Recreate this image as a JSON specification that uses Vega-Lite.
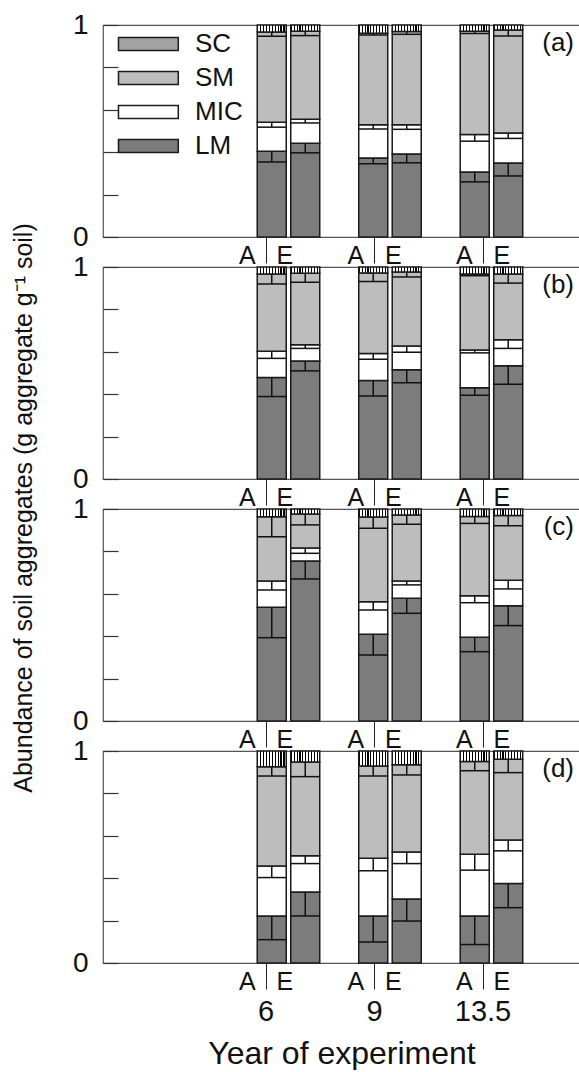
{
  "$schema": "https://vega.github.io/schema/vega-lite/v6.json",
  "padding": {"left": 11, "top": 10, "right": 0, "bottom": 0},
  "bounds": "flush",
  "spacing": 30,
  "config": {
    "font": "Liberation Sans",
    "view": {"stroke": "#555555", "strokeWidth": 1.2},
    "axis": {"labelColor": "#111111", "titleColor": "#111111", "grid": false},
    "axisY": {"values": [0, 0.2, 0.4, 0.6, 0.8, 1], "tickSize": -15, "tickColor": "#333333", "tickWidth": 1.2, "domain": false, "title": null, "labelFontSize": 28, "labelPadding": 30, "labelFlush": false, "labelOverlap": false, "labelExpr": "datum.value == 0 ? '0' : datum.value == 1 ? '1' : ''"},
    "bar": {"stroke": "#1a1a1a", "strokeWidth": 1.5},
    "rule": {"color": "#111111", "strokeWidth": 1.5},
    "tick": {"color": "#111111", "thickness": 1.5, "opacity": 1}
  },
  "title": {
    "text": "Abundance of soil aggregates (g aggregate g⁻¹ soil)",
    "orient": "left", "anchor": "middle", "fontSize": 25, "fontWeight": "normal",
    "color": "#111111", "offset": 35, "dx": 32
  },
  "resolve": {"scale": {"fill": "independent"}, "legend": {"fill": "independent"}},
  "datasets": {
    "years": [{"year": "6"}, {"year": "9"}, {"year": "13.5"}],
    "agg": [
      {"panel": "a", "year": "6", "trt": "A", "frac": "LM", "lo": 0, "hi": 0.404, "cap": 0.354},
      {"panel": "a", "year": "6", "trt": "A", "frac": "MIC", "lo": 0.404, "hi": 0.541, "cap": 0.518},
      {"panel": "a", "year": "6", "trt": "A", "frac": "SM", "lo": 0.541, "hi": 0.967, "cap": 0.947},
      {"panel": "a", "year": "6", "trt": "A", "frac": "SC", "lo": 0.967, "hi": 1},
      {"panel": "a", "year": "6", "trt": "E", "frac": "LM", "lo": 0, "hi": 0.442, "cap": 0.397},
      {"panel": "a", "year": "6", "trt": "E", "frac": "MIC", "lo": 0.442, "hi": 0.556, "cap": 0.538},
      {"panel": "a", "year": "6", "trt": "E", "frac": "SM", "lo": 0.556, "hi": 0.970, "cap": 0.950},
      {"panel": "a", "year": "6", "trt": "E", "frac": "SC", "lo": 0.970, "hi": 1},
      {"panel": "a", "year": "9", "trt": "A", "frac": "LM", "lo": 0, "hi": 0.373, "cap": 0.346},
      {"panel": "a", "year": "9", "trt": "A", "frac": "MIC", "lo": 0.373, "hi": 0.530, "cap": 0.509},
      {"panel": "a", "year": "9", "trt": "A", "frac": "SM", "lo": 0.530, "hi": 0.961, "cap": 0.953},
      {"panel": "a", "year": "9", "trt": "A", "frac": "SC", "lo": 0.961, "hi": 1},
      {"panel": "a", "year": "9", "trt": "E", "frac": "LM", "lo": 0, "hi": 0.392, "cap": 0.350},
      {"panel": "a", "year": "9", "trt": "E", "frac": "MIC", "lo": 0.392, "hi": 0.530, "cap": 0.508},
      {"panel": "a", "year": "9", "trt": "E", "frac": "SM", "lo": 0.530, "hi": 0.969, "cap": 0.956},
      {"panel": "a", "year": "9", "trt": "E", "frac": "SC", "lo": 0.969, "hi": 1},
      {"panel": "a", "year": "13.5", "trt": "A", "frac": "LM", "lo": 0, "hi": 0.307, "cap": 0.260},
      {"panel": "a", "year": "13.5", "trt": "A", "frac": "MIC", "lo": 0.307, "hi": 0.483, "cap": 0.452},
      {"panel": "a", "year": "13.5", "trt": "A", "frac": "SM", "lo": 0.483, "hi": 0.970, "cap": 0.960},
      {"panel": "a", "year": "13.5", "trt": "A", "frac": "SC", "lo": 0.970, "hi": 1},
      {"panel": "a", "year": "13.5", "trt": "E", "frac": "LM", "lo": 0, "hi": 0.349, "cap": 0.288},
      {"panel": "a", "year": "13.5", "trt": "E", "frac": "MIC", "lo": 0.349, "hi": 0.490, "cap": 0.465},
      {"panel": "a", "year": "13.5", "trt": "E", "frac": "SM", "lo": 0.490, "hi": 0.977, "cap": 0.948},
      {"panel": "a", "year": "13.5", "trt": "E", "frac": "SC", "lo": 0.977, "hi": 1},

      {"panel": "b", "year": "6", "trt": "A", "frac": "LM", "lo": 0, "hi": 0.479, "cap": 0.389},
      {"panel": "b", "year": "6", "trt": "A", "frac": "MIC", "lo": 0.479, "hi": 0.603, "cap": 0.569},
      {"panel": "b", "year": "6", "trt": "A", "frac": "SM", "lo": 0.603, "hi": 0.967, "cap": 0.920},
      {"panel": "b", "year": "6", "trt": "A", "frac": "SC", "lo": 0.967, "hi": 1},
      {"panel": "b", "year": "6", "trt": "E", "frac": "LM", "lo": 0, "hi": 0.557, "cap": 0.510},
      {"panel": "b", "year": "6", "trt": "E", "frac": "MIC", "lo": 0.557, "hi": 0.633, "cap": 0.616},
      {"panel": "b", "year": "6", "trt": "E", "frac": "SM", "lo": 0.633, "hi": 0.970, "cap": 0.928},
      {"panel": "b", "year": "6", "trt": "E", "frac": "SC", "lo": 0.970, "hi": 1},
      {"panel": "b", "year": "9", "trt": "A", "frac": "LM", "lo": 0, "hi": 0.465, "cap": 0.392},
      {"panel": "b", "year": "9", "trt": "A", "frac": "MIC", "lo": 0.465, "hi": 0.592, "cap": 0.565},
      {"panel": "b", "year": "9", "trt": "A", "frac": "SM", "lo": 0.592, "hi": 0.972, "cap": 0.932},
      {"panel": "b", "year": "9", "trt": "A", "frac": "SC", "lo": 0.972, "hi": 1},
      {"panel": "b", "year": "9", "trt": "E", "frac": "LM", "lo": 0, "hi": 0.515, "cap": 0.454},
      {"panel": "b", "year": "9", "trt": "E", "frac": "MIC", "lo": 0.515, "hi": 0.627, "cap": 0.598},
      {"panel": "b", "year": "9", "trt": "E", "frac": "SM", "lo": 0.627, "hi": 0.976, "cap": 0.953},
      {"panel": "b", "year": "9", "trt": "E", "frac": "SC", "lo": 0.976, "hi": 1},
      {"panel": "b", "year": "13.5", "trt": "A", "frac": "LM", "lo": 0, "hi": 0.430, "cap": 0.395},
      {"panel": "b", "year": "13.5", "trt": "A", "frac": "MIC", "lo": 0.430, "hi": 0.609, "cap": 0.595},
      {"panel": "b", "year": "13.5", "trt": "A", "frac": "SM", "lo": 0.609, "hi": 0.967, "cap": 0.959},
      {"panel": "b", "year": "13.5", "trt": "A", "frac": "SC", "lo": 0.967, "hi": 1},
      {"panel": "b", "year": "13.5", "trt": "E", "frac": "LM", "lo": 0, "hi": 0.534, "cap": 0.447},
      {"panel": "b", "year": "13.5", "trt": "E", "frac": "MIC", "lo": 0.534, "hi": 0.657, "cap": 0.616},
      {"panel": "b", "year": "13.5", "trt": "E", "frac": "SM", "lo": 0.657, "hi": 0.967, "cap": 0.924},
      {"panel": "b", "year": "13.5", "trt": "E", "frac": "SC", "lo": 0.967, "hi": 1},

      {"panel": "c", "year": "6", "trt": "A", "frac": "LM", "lo": 0, "hi": 0.536, "cap": 0.393},
      {"panel": "c", "year": "6", "trt": "A", "frac": "MIC", "lo": 0.536, "hi": 0.660, "cap": 0.618},
      {"panel": "c", "year": "6", "trt": "A", "frac": "SM", "lo": 0.660, "hi": 0.964, "cap": 0.869},
      {"panel": "c", "year": "6", "trt": "A", "frac": "SC", "lo": 0.964, "hi": 1},
      {"panel": "c", "year": "6", "trt": "E", "frac": "LM", "lo": 0, "hi": 0.755, "cap": 0.670},
      {"panel": "c", "year": "6", "trt": "E", "frac": "MIC", "lo": 0.755, "hi": 0.816, "cap": 0.791},
      {"panel": "c", "year": "6", "trt": "E", "frac": "SM", "lo": 0.816, "hi": 0.976, "cap": 0.925},
      {"panel": "c", "year": "6", "trt": "E", "frac": "SC", "lo": 0.976, "hi": 1},
      {"panel": "c", "year": "9", "trt": "A", "frac": "LM", "lo": 0, "hi": 0.409, "cap": 0.311},
      {"panel": "c", "year": "9", "trt": "A", "frac": "MIC", "lo": 0.409, "hi": 0.563, "cap": 0.524},
      {"panel": "c", "year": "9", "trt": "A", "frac": "SM", "lo": 0.563, "hi": 0.962, "cap": 0.909},
      {"panel": "c", "year": "9", "trt": "A", "frac": "SC", "lo": 0.962, "hi": 1},
      {"panel": "c", "year": "9", "trt": "E", "frac": "LM", "lo": 0, "hi": 0.579, "cap": 0.508},
      {"panel": "c", "year": "9", "trt": "E", "frac": "MIC", "lo": 0.579, "hi": 0.660, "cap": 0.642},
      {"panel": "c", "year": "9", "trt": "E", "frac": "SM", "lo": 0.660, "hi": 0.972, "cap": 0.928},
      {"panel": "c", "year": "9", "trt": "E", "frac": "SC", "lo": 0.972, "hi": 1},
      {"panel": "c", "year": "13.5", "trt": "A", "frac": "LM", "lo": 0, "hi": 0.395, "cap": 0.327},
      {"panel": "c", "year": "13.5", "trt": "A", "frac": "MIC", "lo": 0.395, "hi": 0.591, "cap": 0.558},
      {"panel": "c", "year": "13.5", "trt": "A", "frac": "SM", "lo": 0.591, "hi": 0.965, "cap": 0.932},
      {"panel": "c", "year": "13.5", "trt": "A", "frac": "SC", "lo": 0.965, "hi": 1},
      {"panel": "c", "year": "13.5", "trt": "E", "frac": "LM", "lo": 0, "hi": 0.544, "cap": 0.450},
      {"panel": "c", "year": "13.5", "trt": "E", "frac": "MIC", "lo": 0.544, "hi": 0.664, "cap": 0.623},
      {"panel": "c", "year": "13.5", "trt": "E", "frac": "SM", "lo": 0.664, "hi": 0.969, "cap": 0.921},
      {"panel": "c", "year": "13.5", "trt": "E", "frac": "SC", "lo": 0.969, "hi": 1},

      {"panel": "d", "year": "6", "trt": "A", "frac": "LM", "lo": 0, "hi": 0.222, "cap": 0.110},
      {"panel": "d", "year": "6", "trt": "A", "frac": "MIC", "lo": 0.222, "hi": 0.457, "cap": 0.403},
      {"panel": "d", "year": "6", "trt": "A", "frac": "SM", "lo": 0.457, "hi": 0.926, "cap": 0.882},
      {"panel": "d", "year": "6", "trt": "A", "frac": "SC", "lo": 0.926, "hi": 1},
      {"panel": "d", "year": "6", "trt": "E", "frac": "LM", "lo": 0, "hi": 0.335, "cap": 0.222},
      {"panel": "d", "year": "6", "trt": "E", "frac": "MIC", "lo": 0.335, "hi": 0.506, "cap": 0.469},
      {"panel": "d", "year": "6", "trt": "E", "frac": "SM", "lo": 0.506, "hi": 0.948, "cap": 0.879},
      {"panel": "d", "year": "6", "trt": "E", "frac": "SC", "lo": 0.948, "hi": 1},
      {"panel": "d", "year": "9", "trt": "A", "frac": "LM", "lo": 0, "hi": 0.222, "cap": 0.099},
      {"panel": "d", "year": "9", "trt": "A", "frac": "MIC", "lo": 0.222, "hi": 0.494, "cap": 0.435},
      {"panel": "d", "year": "9", "trt": "A", "frac": "SM", "lo": 0.494, "hi": 0.929, "cap": 0.882},
      {"panel": "d", "year": "9", "trt": "A", "frac": "SC", "lo": 0.929, "hi": 1},
      {"panel": "d", "year": "9", "trt": "E", "frac": "LM", "lo": 0, "hi": 0.302, "cap": 0.198},
      {"panel": "d", "year": "9", "trt": "E", "frac": "MIC", "lo": 0.302, "hi": 0.524, "cap": 0.469},
      {"panel": "d", "year": "9", "trt": "E", "frac": "SM", "lo": 0.524, "hi": 0.935, "cap": 0.887},
      {"panel": "d", "year": "9", "trt": "E", "frac": "SC", "lo": 0.935, "hi": 1},
      {"panel": "d", "year": "13.5", "trt": "A", "frac": "LM", "lo": 0, "hi": 0.222, "cap": 0.087},
      {"panel": "d", "year": "13.5", "trt": "A", "frac": "MIC", "lo": 0.222, "hi": 0.513, "cap": 0.438},
      {"panel": "d", "year": "13.5", "trt": "A", "frac": "SM", "lo": 0.513, "hi": 0.950, "cap": 0.907},
      {"panel": "d", "year": "13.5", "trt": "A", "frac": "SC", "lo": 0.950, "hi": 1},
      {"panel": "d", "year": "13.5", "trt": "E", "frac": "LM", "lo": 0, "hi": 0.375, "cap": 0.261},
      {"panel": "d", "year": "13.5", "trt": "E", "frac": "MIC", "lo": 0.375, "hi": 0.580, "cap": 0.529},
      {"panel": "d", "year": "13.5", "trt": "E", "frac": "SM", "lo": 0.580, "hi": 0.961, "cap": 0.898},
      {"panel": "d", "year": "13.5", "trt": "E", "frac": "SC", "lo": 0.961, "hi": 1}
    ]
  },
  "vconcat": [
    {
      "width": 477, "height": 212,
      "title": {"text": "(a)", "orient": "top", "anchor": "end", "frame": "group", "offset": -45, "dx": -6, "fontSize": 26, "fontWeight": "normal", "color": "#111111"},
      "layer": [
        {
          "data": {"name": "agg"},
          "transform": [{"filter": {"field": "panel", "equal": "a"}}],
          "encoding": {
            "x": {"field": "year", "type": "ordinal", "sort": ["6", "9", "13.5"], "axis": null,
                  "scale": {"type": "band", "domain": ["6", "9", "13.5"], "paddingInner": 0, "paddingOuter": 0.85, "align": 0.781}},
            "xOffset": {"field": "trt", "type": "nominal", "scale": {"domain": ["A", "E"], "paddingInner": 0.134, "paddingOuter": 0.582}}
          },
          "layer": [
            {
              "mark": {"type": "bar"},
              "encoding": {
                "y": {"field": "hi", "type": "quantitative", "scale": {"domain": [0, 1], "nice": false}},
                "y2": {"field": "lo"},
                "fill": {
                  "condition": {"test": "datum.frac === 'SC'", "value": {"gradient": "linear", "x1": 0, "y1": 0, "x2": 1, "y2": 0, "stops": [
                      {"offset": 0, "color": "#000000"}, {"offset": 0.04, "color": "#000000"}, {"offset": 0.04, "color": "#ffffff"}, {"offset": 0.1, "color": "#ffffff"},
                      {"offset": 0.1, "color": "#000000"}, {"offset": 0.14, "color": "#000000"}, {"offset": 0.14, "color": "#ffffff"}, {"offset": 0.2, "color": "#ffffff"},
                      {"offset": 0.2, "color": "#000000"}, {"offset": 0.24, "color": "#000000"}, {"offset": 0.24, "color": "#ffffff"}, {"offset": 0.3, "color": "#ffffff"},
                      {"offset": 0.3, "color": "#000000"}, {"offset": 0.34, "color": "#000000"}, {"offset": 0.34, "color": "#ffffff"}, {"offset": 0.4, "color": "#ffffff"},
                      {"offset": 0.4, "color": "#000000"}, {"offset": 0.44, "color": "#000000"}, {"offset": 0.44, "color": "#ffffff"}, {"offset": 0.5, "color": "#ffffff"},
                      {"offset": 0.5, "color": "#000000"}, {"offset": 0.54, "color": "#000000"}, {"offset": 0.54, "color": "#ffffff"}, {"offset": 0.6, "color": "#ffffff"},
                      {"offset": 0.6, "color": "#000000"}, {"offset": 0.64, "color": "#000000"}, {"offset": 0.64, "color": "#ffffff"}, {"offset": 0.7, "color": "#ffffff"},
                      {"offset": 0.7, "color": "#000000"}, {"offset": 0.74, "color": "#000000"}, {"offset": 0.74, "color": "#ffffff"}, {"offset": 0.8, "color": "#ffffff"},
                      {"offset": 0.8, "color": "#000000"}, {"offset": 0.84, "color": "#000000"}, {"offset": 0.84, "color": "#ffffff"}, {"offset": 0.9, "color": "#ffffff"},
                      {"offset": 0.9, "color": "#000000"}, {"offset": 0.94, "color": "#000000"}, {"offset": 0.94, "color": "#ffffff"}, {"offset": 1, "color": "#ffffff"}]}},
                  "field": "frac", "type": "nominal",
                  "scale": {"domain": ["SC", "SM", "MIC", "LM"], "range": ["#a3a3a3", "#bdbdbd", "#ffffff", "#7c7c7c"]},
                  "legend": {"title": null, "orient": "top-left", "offset": 6, "symbolType": "M-0.54,-1H8.66V1H-0.54Z", "symbolSize": 169, "symbolStrokeColor": "#1a1a1a", "symbolStrokeWidth": 1.5, "symbolOpacity": 1, "labelFontSize": 26, "labelOffset": 60, "rowPadding": 8, "labelColor": "#111111", "padding": 0,
                    "encode": {"symbols": {
                      "stroke": {"value": "#1a1a1a"},
                      "strokeWidth": {"value": 1.5},
                      "strokeDash": {"expr": "datum.value === 'SC' ? [2, 1] : [1, 0]"}
                    }}}
                }
              }
            },
            {
              "transform": [{"filter": "isValid(datum.cap)"}],
              "mark": {"type": "rule"},
              "encoding": {"y": {"field": "hi", "type": "quantitative"}, "y2": {"field": "cap"}}
            },
            {
              "transform": [{"filter": "isValid(datum.cap)"}],
              "mark": {"type": "tick", "size": 29, "orient": "horizontal"},
              "encoding": {"y": {"field": "cap", "type": "quantitative"}}
            }
          ]
        },
        {
          "data": {"name": "years"},
          "mark": {"type": "point", "opacity": 0},
          "encoding": {
            "y": {"datum": 0, "type": "quantitative"},
            "x": {"field": "year", "type": "ordinal", "sort": ["6", "9", "13.5"],
                  "scale": {"type": "band", "domain": ["6", "9", "13.5"], "paddingInner": 0, "paddingOuter": 0.698, "align": 0.718},
                  "axis": {"orient": "bottom", "labelAngle": 0, "labelExpr": "'A\u00a0\u00a0\u00a0E'", "tickSize": 26, "tickColor": "#222222", "tickWidth": 1, "domain": false, "labelPadding": -20, "labelFontSize": 25, "title": null}}
          }
        }
      ],
      "resolve": {"scale": {"x": "independent"}}
    },
    {
      "width": 477, "height": 212,
      "title": {"text": "(b)", "orient": "top", "anchor": "end", "frame": "group", "offset": -45, "dx": -6, "fontSize": 26, "fontWeight": "normal", "color": "#111111"},
      "layer": [
        {
          "data": {"name": "agg"},
          "transform": [{"filter": {"field": "panel", "equal": "b"}}],
          "encoding": {
            "x": {"field": "year", "type": "ordinal", "sort": ["6", "9", "13.5"], "axis": null,
                  "scale": {"type": "band", "domain": ["6", "9", "13.5"], "paddingInner": 0, "paddingOuter": 0.85, "align": 0.781}},
            "xOffset": {"field": "trt", "type": "nominal", "scale": {"domain": ["A", "E"], "paddingInner": 0.134, "paddingOuter": 0.582}}
          },
          "layer": [
            {
              "mark": {"type": "bar"},
              "encoding": {
                "y": {"field": "hi", "type": "quantitative", "scale": {"domain": [0, 1], "nice": false}},
                "y2": {"field": "lo"},
                "fill": {
                  "condition": {"test": "datum.frac === 'SC'", "value": {"gradient": "linear", "x1": 0, "y1": 0, "x2": 1, "y2": 0, "stops": [
                      {"offset": 0, "color": "#000000"}, {"offset": 0.04, "color": "#000000"}, {"offset": 0.04, "color": "#ffffff"}, {"offset": 0.1, "color": "#ffffff"},
                      {"offset": 0.1, "color": "#000000"}, {"offset": 0.14, "color": "#000000"}, {"offset": 0.14, "color": "#ffffff"}, {"offset": 0.2, "color": "#ffffff"},
                      {"offset": 0.2, "color": "#000000"}, {"offset": 0.24, "color": "#000000"}, {"offset": 0.24, "color": "#ffffff"}, {"offset": 0.3, "color": "#ffffff"},
                      {"offset": 0.3, "color": "#000000"}, {"offset": 0.34, "color": "#000000"}, {"offset": 0.34, "color": "#ffffff"}, {"offset": 0.4, "color": "#ffffff"},
                      {"offset": 0.4, "color": "#000000"}, {"offset": 0.44, "color": "#000000"}, {"offset": 0.44, "color": "#ffffff"}, {"offset": 0.5, "color": "#ffffff"},
                      {"offset": 0.5, "color": "#000000"}, {"offset": 0.54, "color": "#000000"}, {"offset": 0.54, "color": "#ffffff"}, {"offset": 0.6, "color": "#ffffff"},
                      {"offset": 0.6, "color": "#000000"}, {"offset": 0.64, "color": "#000000"}, {"offset": 0.64, "color": "#ffffff"}, {"offset": 0.7, "color": "#ffffff"},
                      {"offset": 0.7, "color": "#000000"}, {"offset": 0.74, "color": "#000000"}, {"offset": 0.74, "color": "#ffffff"}, {"offset": 0.8, "color": "#ffffff"},
                      {"offset": 0.8, "color": "#000000"}, {"offset": 0.84, "color": "#000000"}, {"offset": 0.84, "color": "#ffffff"}, {"offset": 0.9, "color": "#ffffff"},
                      {"offset": 0.9, "color": "#000000"}, {"offset": 0.94, "color": "#000000"}, {"offset": 0.94, "color": "#ffffff"}, {"offset": 1, "color": "#ffffff"}]}},
                  "field": "frac", "type": "nominal",
                  "scale": {"domain": ["SC", "SM", "MIC", "LM"], "range": ["#a3a3a3", "#bdbdbd", "#ffffff", "#7c7c7c"]},
                  "legend": null
                }
              }
            },
            {
              "transform": [{"filter": "isValid(datum.cap)"}],
              "mark": {"type": "rule"},
              "encoding": {"y": {"field": "hi", "type": "quantitative"}, "y2": {"field": "cap"}}
            },
            {
              "transform": [{"filter": "isValid(datum.cap)"}],
              "mark": {"type": "tick", "size": 29, "orient": "horizontal"},
              "encoding": {"y": {"field": "cap", "type": "quantitative"}}
            }
          ]
        },
        {
          "data": {"name": "years"},
          "mark": {"type": "point", "opacity": 0},
          "encoding": {
            "y": {"datum": 0, "type": "quantitative"},
            "x": {"field": "year", "type": "ordinal", "sort": ["6", "9", "13.5"],
                  "scale": {"type": "band", "domain": ["6", "9", "13.5"], "paddingInner": 0, "paddingOuter": 0.698, "align": 0.718},
                  "axis": {"orient": "bottom", "labelAngle": 0, "labelExpr": "'A\u00a0\u00a0\u00a0E'", "tickSize": 26, "tickColor": "#222222", "tickWidth": 1, "domain": false, "labelPadding": -20, "labelFontSize": 25, "title": null}}
          }
        }
      ],
      "resolve": {"scale": {"x": "independent"}}
    },
    {
      "width": 477, "height": 212,
      "title": {"text": "(c)", "orient": "top", "anchor": "end", "frame": "group", "offset": -45, "dx": -6, "fontSize": 26, "fontWeight": "normal", "color": "#111111"},
      "layer": [
        {
          "data": {"name": "agg"},
          "transform": [{"filter": {"field": "panel", "equal": "c"}}],
          "encoding": {
            "x": {"field": "year", "type": "ordinal", "sort": ["6", "9", "13.5"], "axis": null,
                  "scale": {"type": "band", "domain": ["6", "9", "13.5"], "paddingInner": 0, "paddingOuter": 0.85, "align": 0.781}},
            "xOffset": {"field": "trt", "type": "nominal", "scale": {"domain": ["A", "E"], "paddingInner": 0.134, "paddingOuter": 0.582}}
          },
          "layer": [
            {
              "mark": {"type": "bar"},
              "encoding": {
                "y": {"field": "hi", "type": "quantitative", "scale": {"domain": [0, 1], "nice": false}},
                "y2": {"field": "lo"},
                "fill": {
                  "condition": {"test": "datum.frac === 'SC'", "value": {"gradient": "linear", "x1": 0, "y1": 0, "x2": 1, "y2": 0, "stops": [
                      {"offset": 0, "color": "#000000"}, {"offset": 0.04, "color": "#000000"}, {"offset": 0.04, "color": "#ffffff"}, {"offset": 0.1, "color": "#ffffff"},
                      {"offset": 0.1, "color": "#000000"}, {"offset": 0.14, "color": "#000000"}, {"offset": 0.14, "color": "#ffffff"}, {"offset": 0.2, "color": "#ffffff"},
                      {"offset": 0.2, "color": "#000000"}, {"offset": 0.24, "color": "#000000"}, {"offset": 0.24, "color": "#ffffff"}, {"offset": 0.3, "color": "#ffffff"},
                      {"offset": 0.3, "color": "#000000"}, {"offset": 0.34, "color": "#000000"}, {"offset": 0.34, "color": "#ffffff"}, {"offset": 0.4, "color": "#ffffff"},
                      {"offset": 0.4, "color": "#000000"}, {"offset": 0.44, "color": "#000000"}, {"offset": 0.44, "color": "#ffffff"}, {"offset": 0.5, "color": "#ffffff"},
                      {"offset": 0.5, "color": "#000000"}, {"offset": 0.54, "color": "#000000"}, {"offset": 0.54, "color": "#ffffff"}, {"offset": 0.6, "color": "#ffffff"},
                      {"offset": 0.6, "color": "#000000"}, {"offset": 0.64, "color": "#000000"}, {"offset": 0.64, "color": "#ffffff"}, {"offset": 0.7, "color": "#ffffff"},
                      {"offset": 0.7, "color": "#000000"}, {"offset": 0.74, "color": "#000000"}, {"offset": 0.74, "color": "#ffffff"}, {"offset": 0.8, "color": "#ffffff"},
                      {"offset": 0.8, "color": "#000000"}, {"offset": 0.84, "color": "#000000"}, {"offset": 0.84, "color": "#ffffff"}, {"offset": 0.9, "color": "#ffffff"},
                      {"offset": 0.9, "color": "#000000"}, {"offset": 0.94, "color": "#000000"}, {"offset": 0.94, "color": "#ffffff"}, {"offset": 1, "color": "#ffffff"}]}},
                  "field": "frac", "type": "nominal",
                  "scale": {"domain": ["SC", "SM", "MIC", "LM"], "range": ["#a3a3a3", "#bdbdbd", "#ffffff", "#7c7c7c"]},
                  "legend": null
                }
              }
            },
            {
              "transform": [{"filter": "isValid(datum.cap)"}],
              "mark": {"type": "rule"},
              "encoding": {"y": {"field": "hi", "type": "quantitative"}, "y2": {"field": "cap"}}
            },
            {
              "transform": [{"filter": "isValid(datum.cap)"}],
              "mark": {"type": "tick", "size": 29, "orient": "horizontal"},
              "encoding": {"y": {"field": "cap", "type": "quantitative"}}
            }
          ]
        },
        {
          "data": {"name": "years"},
          "mark": {"type": "point", "opacity": 0},
          "encoding": {
            "y": {"datum": 0, "type": "quantitative"},
            "x": {"field": "year", "type": "ordinal", "sort": ["6", "9", "13.5"],
                  "scale": {"type": "band", "domain": ["6", "9", "13.5"], "paddingInner": 0, "paddingOuter": 0.698, "align": 0.718},
                  "axis": {"orient": "bottom", "labelAngle": 0, "labelExpr": "'A\u00a0\u00a0\u00a0E'", "tickSize": 26, "tickColor": "#222222", "tickWidth": 1, "domain": false, "labelPadding": -20, "labelFontSize": 25, "title": null}}
          }
        }
      ],
      "resolve": {"scale": {"x": "independent"}}
    },
    {
      "width": 477, "height": 212,
      "title": {"text": "(d)", "orient": "top", "anchor": "end", "frame": "group", "offset": -45, "dx": -6, "fontSize": 26, "fontWeight": "normal", "color": "#111111"},
      "layer": [
        {
          "data": {"name": "agg"},
          "transform": [{"filter": {"field": "panel", "equal": "d"}}],
          "encoding": {
            "x": {"field": "year", "type": "ordinal", "sort": ["6", "9", "13.5"], "axis": null,
                  "scale": {"type": "band", "domain": ["6", "9", "13.5"], "paddingInner": 0, "paddingOuter": 0.85, "align": 0.781}},
            "xOffset": {"field": "trt", "type": "nominal", "scale": {"domain": ["A", "E"], "paddingInner": 0.134, "paddingOuter": 0.582}}
          },
          "layer": [
            {
              "mark": {"type": "bar"},
              "encoding": {
                "y": {"field": "hi", "type": "quantitative", "scale": {"domain": [0, 1], "nice": false}},
                "y2": {"field": "lo"},
                "fill": {
                  "condition": {"test": "datum.frac === 'SC'", "value": {"gradient": "linear", "x1": 0, "y1": 0, "x2": 1, "y2": 0, "stops": [
                      {"offset": 0, "color": "#000000"}, {"offset": 0.04, "color": "#000000"}, {"offset": 0.04, "color": "#ffffff"}, {"offset": 0.1, "color": "#ffffff"},
                      {"offset": 0.1, "color": "#000000"}, {"offset": 0.14, "color": "#000000"}, {"offset": 0.14, "color": "#ffffff"}, {"offset": 0.2, "color": "#ffffff"},
                      {"offset": 0.2, "color": "#000000"}, {"offset": 0.24, "color": "#000000"}, {"offset": 0.24, "color": "#ffffff"}, {"offset": 0.3, "color": "#ffffff"},
                      {"offset": 0.3, "color": "#000000"}, {"offset": 0.34, "color": "#000000"}, {"offset": 0.34, "color": "#ffffff"}, {"offset": 0.4, "color": "#ffffff"},
                      {"offset": 0.4, "color": "#000000"}, {"offset": 0.44, "color": "#000000"}, {"offset": 0.44, "color": "#ffffff"}, {"offset": 0.5, "color": "#ffffff"},
                      {"offset": 0.5, "color": "#000000"}, {"offset": 0.54, "color": "#000000"}, {"offset": 0.54, "color": "#ffffff"}, {"offset": 0.6, "color": "#ffffff"},
                      {"offset": 0.6, "color": "#000000"}, {"offset": 0.64, "color": "#000000"}, {"offset": 0.64, "color": "#ffffff"}, {"offset": 0.7, "color": "#ffffff"},
                      {"offset": 0.7, "color": "#000000"}, {"offset": 0.74, "color": "#000000"}, {"offset": 0.74, "color": "#ffffff"}, {"offset": 0.8, "color": "#ffffff"},
                      {"offset": 0.8, "color": "#000000"}, {"offset": 0.84, "color": "#000000"}, {"offset": 0.84, "color": "#ffffff"}, {"offset": 0.9, "color": "#ffffff"},
                      {"offset": 0.9, "color": "#000000"}, {"offset": 0.94, "color": "#000000"}, {"offset": 0.94, "color": "#ffffff"}, {"offset": 1, "color": "#ffffff"}]}},
                  "field": "frac", "type": "nominal",
                  "scale": {"domain": ["SC", "SM", "MIC", "LM"], "range": ["#a3a3a3", "#bdbdbd", "#ffffff", "#7c7c7c"]},
                  "legend": null
                }
              }
            },
            {
              "transform": [{"filter": "isValid(datum.cap)"}],
              "mark": {"type": "rule"},
              "encoding": {"y": {"field": "hi", "type": "quantitative"}, "y2": {"field": "cap"}}
            },
            {
              "transform": [{"filter": "isValid(datum.cap)"}],
              "mark": {"type": "tick", "size": 29, "orient": "horizontal"},
              "encoding": {"y": {"field": "cap", "type": "quantitative"}}
            }
          ]
        },
        {
          "data": {"name": "years"},
          "mark": {"type": "point", "opacity": 0},
          "encoding": {
            "y": {"datum": 0, "type": "quantitative"},
            "x": {"field": "year", "type": "ordinal", "sort": ["6", "9", "13.5"],
                  "scale": {"type": "band", "domain": ["6", "9", "13.5"], "paddingInner": 0, "paddingOuter": 0.698, "align": 0.718},
                  "axis": {"orient": "bottom", "labelAngle": 0, "labelExpr": "'A\u00a0\u00a0\u00a0E'", "tickSize": 26, "tickColor": "#222222", "tickWidth": 1, "domain": false, "labelPadding": -20, "labelFontSize": 25, "title": null}}
          }
        },
        {
          "data": {"name": "years"},
          "mark": {"type": "point", "opacity": 0},
          "encoding": {
            "y": {"datum": 0, "type": "quantitative"},
            "x": {"field": "year", "type": "ordinal", "sort": ["6", "9", "13.5"],
                  "scale": {"type": "band", "domain": ["6", "9", "13.5"], "paddingInner": 0, "paddingOuter": 0.698, "align": 0.718},
                  "axis": {"orient": "bottom", "labelAngle": 0, "ticks": false, "domain": false, "labelPadding": 34, "labelFontSize": 29, "title": "Year of experiment", "titleFontSize": 32, "titleFontWeight": "normal", "titlePadding": 12}}
          }
        }
      ],
      "resolve": {"scale": {"x": "independent"}}
    }
  ]
}
